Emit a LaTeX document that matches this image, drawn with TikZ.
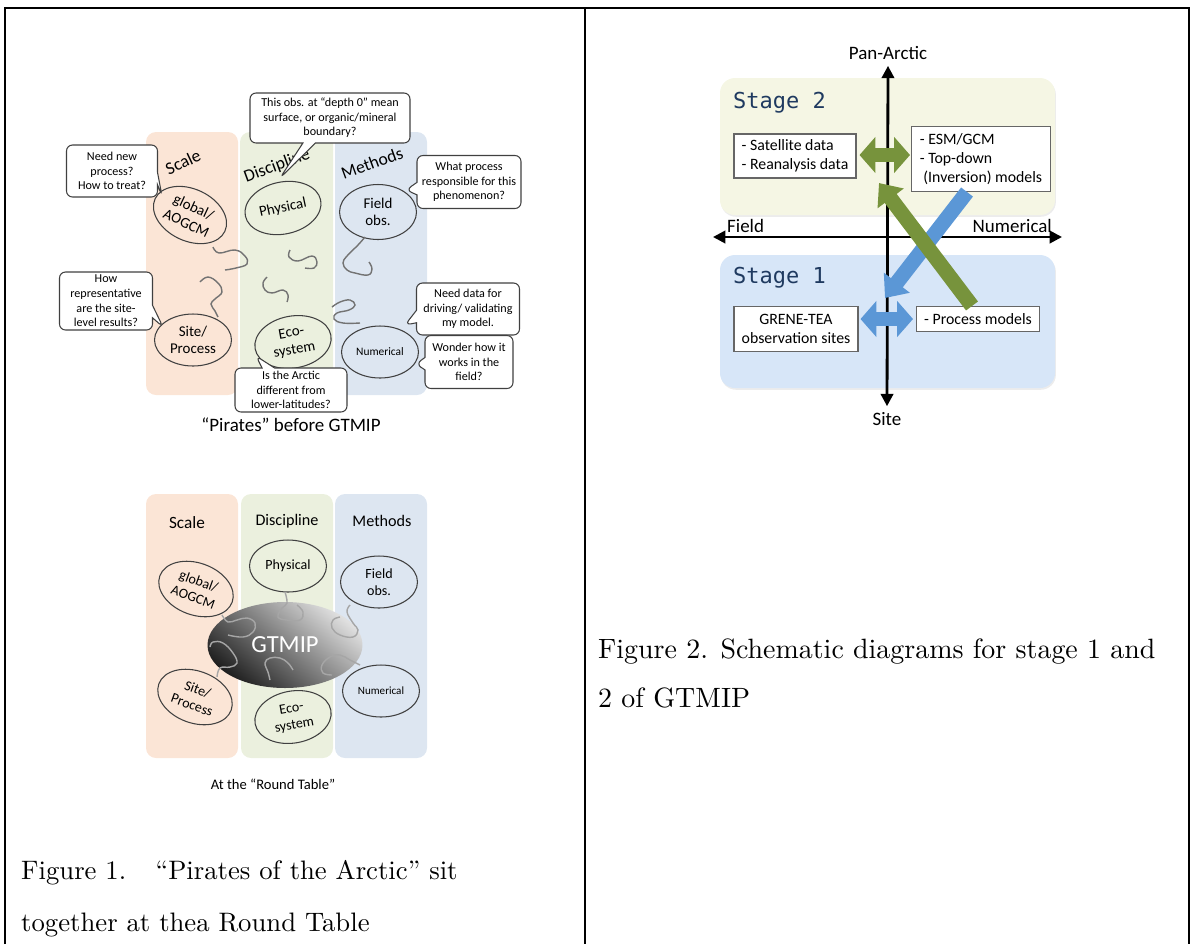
\documentclass[tikz,border=0pt]{standalone}
\usepackage{fontspec}
\newfontfamily\carl{Carlito}
\newfontfamily\cmono{DejaVu Sans Mono}
\newfontfamily\capfont{lmroman10-regular}[Extension=.otf]
\usetikzlibrary{shapes.geometric,shapes.callouts,arrows.meta,shadows,calc}
\definecolor{scalec}{HTML}{FBE5D6}
\definecolor{discc}{HTML}{EBF0DE}
\definecolor{methc}{HTML}{DDE6F1}
\definecolor{stagetwo}{HTML}{F5F6E4}
\definecolor{stageone}{HTML}{D7E6F8}
\definecolor{stagetxt}{HTML}{1F3A60}
\definecolor{garr}{HTML}{77933C}
\definecolor{barr}{HTML}{5B97D6}
\begin{document}
\begin{tikzpicture}[x=0.02cm,y=-0.02cm,
  colbox/.style={rounded corners=0.2cm},
  ell/.style={ellipse, draw=black!75, line width=0.6pt, inner sep=0pt, minimum width=1.54cm, minimum height=1.04cm, font=\carl\fontsize{8.5}{10}\selectfont, align=center},
  callbox/.style={rectangle callout, draw=black!75, fill=white, rounded corners=0.12cm, line width=0.6pt, font=\carl\fontsize{6.9}{8.3}\selectfont, align=center, inner sep=0pt},
  squig/.style={draw=black!55, line width=0.8pt},
  squigl/.style={draw=black!35, line width=0.8pt},
  collab/.style={font=\carl\fontsize{10}{12}\selectfont},
  tbox/.style={draw=black!60, fill=white, line width=0.6pt, font=\carl\fontsize{9}{10.6}\selectfont, inner sep=0pt},
  stagebox/.style={rounded corners=0.3cm, drop shadow={opacity=0.15, shadow xshift=0.5pt, shadow yshift=-1pt}},
  stagelab/.style={font=\cmono\fontsize{12.5}{14}\selectfont, text=stagetxt, anchor=west},
  axisline/.style={line width=1.6pt, {Triangle[width=7pt,length=7pt]}-{Triangle[width=7pt,length=7pt]}},
  dblg/.style={draw=garr, line width=8pt, {Triangle[width=20pt,length=9pt]}-{Triangle[width=20pt,length=9pt]}},
  dblb/.style={draw=barr, line width=8pt, {Triangle[width=20pt,length=9pt]}-{Triangle[width=20pt,length=9pt]}},
  diagarrow/.style={line width=8.5pt, -{Triangle[width=18pt,length=11pt]}},
  axlab/.style={font=\carl\fontsize{10.8}{12}\selectfont},
  figcap/.style={font=\capfont\fontsize{15.2}{18}\selectfont, anchor=base west},
  subcap/.style={font=\carl\fontsize{10.8}{12}\selectfont}
]
\useasboundingbox (0,0) rectangle (1192,944);
% table frame
\draw[line width=1.2pt] (5,944) -- (5,8) -- (1189,8) -- (1189,944);
\draw[line width=1.2pt] (585,8) -- (585,944);

% ===== Figure 1 top =====
\fill[colbox,scalec] (146,132) rectangle (238,395);
\fill[colbox,discc] (240,132) rectangle (333,395);
\fill[colbox,methc] (335,132) rectangle (427,395);
\node[collab, rotate=25] (lscale) at (183,162) {Scale};
\node[collab, rotate=20] (ldisc) at (277,166) {Discipline};
\node[collab, rotate=20] (lmeth) at (372,163) {Methods};

\node[ell, rotate=-25] (glob) at (190,215) {global/\\AOGCM};
\node[ell, rotate=12] (phys) at (283,208) {Physical};
\node[ell, minimum height=1.1cm] (field) at (378,212) {Field\\obs.};
\node[ell] (site) at (193,340) {Site/\\Process};
\node[ell, rotate=10] (eco) at (293,342) {Eco-\\system};
\node[ell, font=\carl\fontsize{6.5}{7.5}\selectfont] (num) at (380,352) {Numerical};

\draw[squig] plot[smooth, tension=0.7] coordinates {(213,247) (219,253) (235,250) (245,256) (247,264) (236,268) (225,270)};
\draw[squig] plot[smooth, tension=0.7] coordinates {(290,250) (289,257) (298,261) (312,256) (317,262) (314,268) (305,268)};
\draw[squig] plot[smooth, tension=0.7] coordinates {(365,237) (358,245) (347,256) (343,263) (347,270) (355,273) (368,275) (372,269) (369,262)};
\draw[squig] plot[smooth, tension=0.7] coordinates {(200,282) (208,277) (218,283) (222,292) (215,299) (211,304) (215,311) (218,317)};
\draw[squig] plot[smooth, tension=0.7] coordinates {(267,277) (263,283) (265,290) (272,293) (283,290) (288,295) (287,302)};
\draw[squig] plot[smooth, tension=0.7] coordinates {(332,307) (340,302) (350,300) (355,305) (349,310) (337,313) (334,319) (343,323) (360,323)};

\node[callbox, minimum width=3.2cm, minimum height=1.0cm, callout absolute pointer={(280,178)}] (c1) at (330,118) {This obs. at “depth 0” mean\\surface, or organic/mineral\\boundary?};
\node[callbox, minimum width=1.82cm, minimum height=1.04cm, callout absolute pointer={(162,196)}] (c2) at (112,171) {Need new\\process?\\How to treat?};
\node[callbox, minimum width=2.08cm, minimum height=1.06cm, callout absolute pointer={(406,190)}] (c3) at (469,182) {What process\\responsible for this\\phenomenon?};
\node[callbox, minimum width=1.86cm, minimum height=1.16cm, callout absolute pointer={(163,327)}] (c4) at (106,301) {How\\representative\\are the site-\\level results?};
\node[callbox, minimum width=2.24cm, minimum height=0.88cm, callout absolute pointer={(256,356)}] (c5) at (291,390) {Is the Arctic\\different from\\lower-latitudes?};
\node[callbox, minimum width=2.06cm, minimum height=1.04cm, callout absolute pointer={(405,325)}] (c6) at (468,309) {Need data for\\driving/ validating\\my model.};
\node[callbox, minimum width=1.76cm, minimum height=1.06cm, callout absolute pointer={(416,364)}] (c7) at (469,362) {Wonder how it\\works in the\\field?};

\node[subcap] (cap1a) at (291,425) {“Pirates” before GTMIP};

% ===== Figure 1 bottom =====
\fill[colbox,scalec] (146,494) rectangle (238,758);
\fill[colbox,discc] (241,494) rectangle (333,758);
\fill[colbox,methc] (335,494) rectangle (427,758);
\node[collab, font=\carl\fontsize{9.8}{12}\selectfont] (bscale) at (187,523) {Scale};
\node[collab, font=\carl\fontsize{9.2}{12}\selectfont] (bdisc) at (287,521) {Discipline};
\node[collab, font=\carl\fontsize{9.2}{12}\selectfont] (bmeth) at (382,521) {Methods};

\node[ell, font=\carl\fontsize{8}{9.5}\selectfont] (bphys) at (288,566) {Physical};
\node[ell, rotate=-20, font=\carl\fontsize{8}{9.5}\selectfont] (bglob) at (196,589) {global/\\AOGCM};
\node[ell, font=\carl\fontsize{8}{9.5}\selectfont] (bfield) at (379,582) {Field\\obs.};
\node[ell, rotate=-20, font=\carl\fontsize{8}{9.5}\selectfont] (bsite) at (195,697) {Site/\\Process};
\node[ell, font=\carl\fontsize{6.3}{7}\selectfont] (bnum) at (381,691) {Numerical};
\node[ell, rotate=10, font=\carl\fontsize{8}{9.5}\selectfont] (beco) at (293,717) {Eco-\\system};

\node[ellipse, minimum width=3.1cm, minimum height=1.72cm, inner sep=0pt,
      shading=axis, top color=black!88, bottom color=black!12, shading angle=140,
      font=\carl\fontsize{14}{16}\selectfont, text=white] (gtmip) at (285,645) {GTMIP};

\draw[squigl] plot[smooth, tension=0.7] coordinates {(222,615) (228,622) (237,620) (247,618) (255,623) (253,632) (243,637) (228,635)};
\draw[squigl] plot[smooth, tension=0.7] coordinates {(285,592) (287,603) (282,608) (278,617) (287,620) (300,620) (303,612) (297,605)};
\draw[squigl] plot[smooth, tension=0.7] coordinates {(350,605) (347,612) (353,623) (358,630) (353,637) (340,635) (332,628) (333,620) (340,617)};
\draw[squigl] plot[smooth, tension=0.7] coordinates {(217,677) (220,668) (230,667) (237,663) (233,653) (223,643) (213,642) (210,647)};
\draw[squigl] plot[smooth, tension=0.7] coordinates {(270,680) (268,672) (265,663) (270,658) (280,658) (288,663) (293,670)};
\draw[squigl] plot[smooth, tension=0.7] coordinates {(360,665) (350,660) (340,655) (330,657) (322,665) (323,673) (332,675)};

\node[subcap, font=\carl\fontsize{8.3}{10}\selectfont] (cap1b) at (273,784) {At the “Round Table”};

\node[figcap] (f1a) at (15,879) {Figure 1.\hspace{1.1em}“Pirates of the Arctic” sit};
\node[figcap] (f1b) at (15,931) {together at thea Round Table};

% ===== Figure 2 =====
\fill[stagebox, stagetwo] (720,78) rectangle (1055,215);
\fill[stagebox, stageone] (720,255) rectangle (1055,388);
\node[stagelab] (s2) at (727,103) {Stage 2};
\node[stagelab] (s1) at (727,278) {Stage 1};

\node[axlab] (pan) at (888,53) {Pan-Arctic};
\node[axlab] (sitel) at (887,419) {Site};
\node[axlab, anchor=west] (fieldl) at (721,226) {Field};
\node[axlab, anchor=east] (numl) at (1058,226) {Numerical};
\coordinate (axl) at (713,237);
\coordinate (axr) at (1062,237);
\draw[axisline] (sitel.north) -- (pan.south);
\draw[axisline] (axl) -- (axr);

\node[tbox, minimum width=2.44cm, minimum height=0.88cm, align=left] (sat) at (795,156) {- Satellite data\\- Reanalysis data};
\node[tbox, minimum width=2.78cm, minimum height=1.3cm, align=left] (esm) at (981,159) {- ESM/GCM\\- Top-down\\\ (Inversion) models};
\node[tbox, minimum width=2.48cm, minimum height=0.9cm, align=center] (grene) at (796,329) {GRENE-TEA\\observation sites};
\node[tbox, minimum width=2.46cm, minimum height=0.5cm] (proc) at (978,319) {- Process models};

\draw[dblg] ($(sat.east)+(3,-1)$) -- ($(esm.west)+(-1,-4)$);
\draw[dblb] ($(grene.east |- proc.west)+(2,0)$) -- ($(proc.west)+(-3,0)$);

\coordinate (btail) at ($(esm.south)+(-14,0)$);
\coordinate (ghead) at (879,183);
\coordinate (bhead) at (885,298);
\coordinate (gtail) at ($(proc.north)+(-6,0)$);
\draw[diagarrow, draw=barr] (btail) -- (bhead);
\draw[diagarrow, draw=garr] (gtail) -- (ghead);

\node[figcap, font=\capfont\fontsize{15.9}{18}\selectfont] (f2a) at (592,658) {Figure 2. Schematic diagrams for stage 1 and};
\node[figcap, font=\capfont\fontsize{15.9}{18}\selectfont] (f2b) at (592,707) {2 of GTMIP};
\end{tikzpicture}
\end{document}
